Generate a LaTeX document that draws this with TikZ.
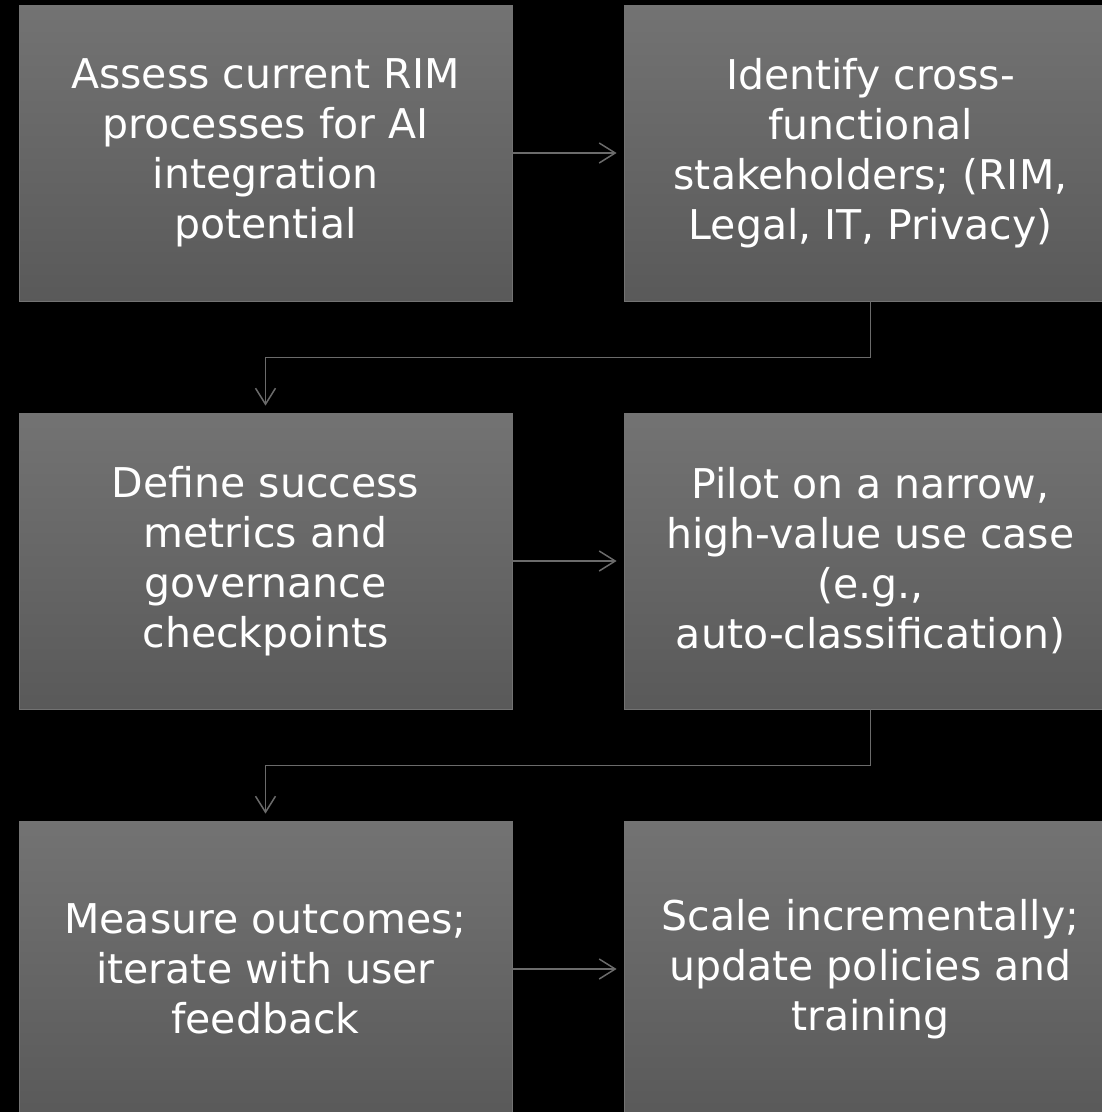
\documentclass[tikz,border=0pt]{standalone}
\usepackage{fontspec}
\setsansfont{DejaVu Sans}
\usetikzlibrary{arrows.meta}

\begin{document}
\begin{tikzpicture}
  [x=1pt,y=-1pt,
   every node/.style={rectangle,draw=black!55,line width=.8pt,top color=black!55,bottom color=black!65,
     minimum width=493pt,minimum height=296pt,text=white,align=center,
     font=\sffamily\fontsize{41}{50}\selectfont},
   link/.style={draw=black!58,line width=1.5pt,-{Straight Barb[length=16pt,width=20pt,line width=1.5pt]},shorten >=7pt}]
  \fill[black] (0,0) rectangle (1102,1112);
  \useasboundingbox (0,0) rectangle (1102,1112);
  \clip (0,0) rectangle (1102,1112);
  \node (assess) at (265.5,153) {Assess current RIM\\processes for AI\\integration\\potential};
  \node (identify) at (870.5,153) {Identify cross-\\functional\\stakeholders; (RIM,\\Legal, IT, Privacy)};
  \node (define) at (265.5,561) {Define success\\metrics and\\governance\\checkpoints};
  \node (pilot) at (870.5,561) {Pilot on a narrow,\\high-value use case\\(e.g.,\\auto-classification)};
  \node (measure) at (265.5,969) {Measure outcomes;\\iterate with user\\feedback};
  \node (scale) at (870.5,969) {Scale incrementally;\\update policies and\\training};
  \foreach \from/\to in {assess/identify,define/pilot,measure/scale}
    \draw[link] (\from) -- (\to);
  \draw[link] (identify.south) -- ++(0,56) -| (define.north);
  \draw[link] (pilot.south) -- ++(0,56) -| (measure.north);

\end{tikzpicture}
\end{document}
